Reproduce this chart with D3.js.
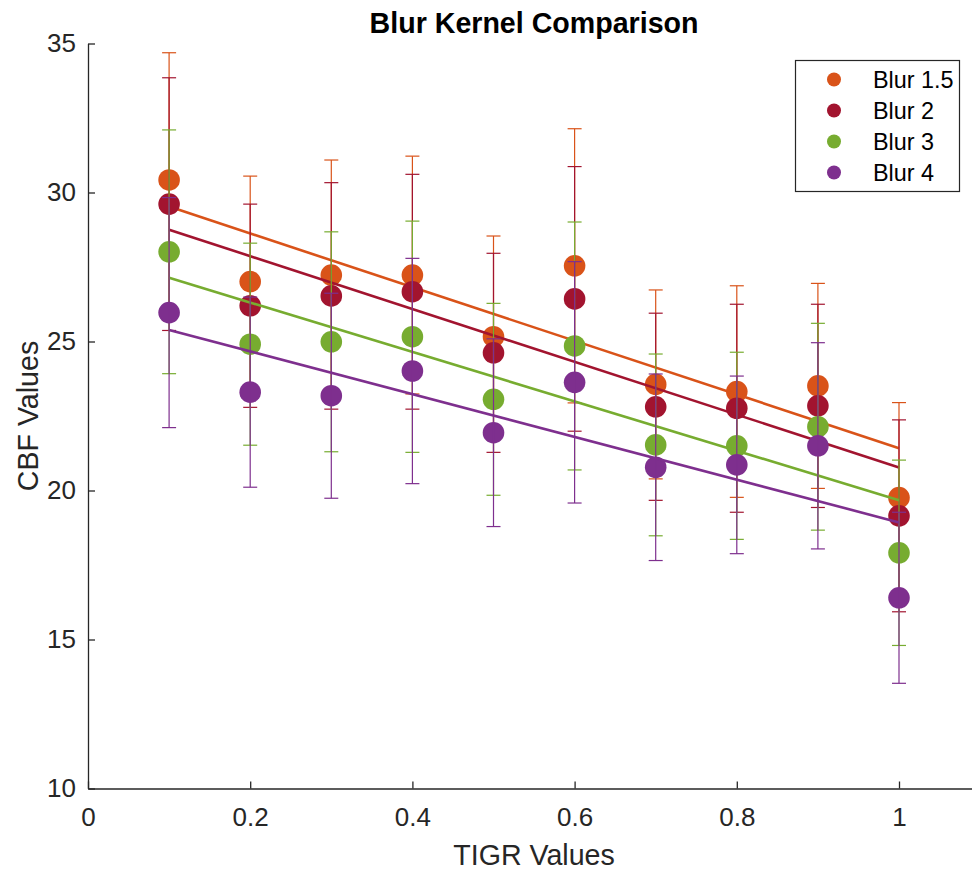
<!DOCTYPE html>
<html>
<head>
<meta charset="utf-8">
<script src="https://cdn.jsdelivr.net/npm/d3@7"></script>
<style>
  body { margin: 0; background: #fff; }
  svg { font-family: "Liberation Sans", Arial, Helvetica, sans-serif; }
</style>
</head>
<body>
<script>
// TIGR values on the x axis
var tigr = [0.1, 0.2, 0.3, 0.4, 0.5, 0.6, 0.7, 0.8, 0.9, 1.0];

// mean CBF per blur kernel, and the error bar half-lengths
var blur15 = [30.42, 27.01, 27.23, 27.23, 25.16, 27.54, 23.56, 23.32, 23.51, 19.76];
var err15  = [4.27, 3.54, 3.86, 3.99, 3.38, 4.60, 3.17, 3.55, 3.44, 3.19];
var blur2  = [29.61, 26.20, 26.53, 26.67, 24.62, 26.43, 22.81, 22.76, 22.84, 19.15];
var err2   = [4.24, 3.41, 3.80, 3.94, 3.34, 4.44, 3.14, 3.49, 3.41, 3.22];
var blur3  = [28.01, 24.91, 24.99, 25.16, 23.06, 24.85, 21.53, 21.50, 22.14, 17.91];
var err3   = [4.09, 3.39, 3.69, 3.88, 3.22, 4.16, 3.05, 3.14, 3.47, 3.11];
var blur4  = [25.97, 23.30, 23.18, 24.01, 21.94, 23.63, 20.78, 20.86, 21.50, 16.40];
var err4   = [3.86, 3.19, 3.44, 3.78, 3.15, 4.05, 3.13, 2.98, 3.46, 2.87];

var names  = ["Blur 1.5", "Blur 2", "Blur 3", "Blur 4"];
var colors = ["#D95319", "#A2142F", "#77AC30", "#7E2F8E"];
var yTicks = [10, 15, 20, 25, 30, 35];
var xTicks = [0, 0.2, 0.4, 0.6, 0.8, 1];

var series = [
  {name: names[0], color: colors[0], y: blur15, e: err15},
  {name: names[1], color: colors[1], y: blur2,  e: err2},
  {name: names[2], color: colors[2], y: blur3,  e: err3},
  {name: names[3], color: colors[3], y: blur4,  e: err4}
];

var W = 972, H = 873;
var plotLeft = 88, plotTop = 43.5, plotBottom = 788.5, unit = 811; // px per 1.0 on x

var svg = d3.select("body").append("svg")
  .attr("width", W)
  .attr("height", H);

var x = d3.scaleLinear().domain([0, 1.1]).range([plotLeft, plotLeft + 1.1 * unit]);
var y = d3.scaleLinear().domain([10, 35]).range([plotBottom, plotTop]);

// axes, ticks pointing inward like matlab
var xAxis = svg.append("g")
  .attr("transform", "translate(0," + plotBottom + ")")
  .call(d3.axisBottom(x).tickValues(xTicks).tickFormat(d3.format("")).tickSizeInner(-7).tickSizeOuter(0).tickPadding(19));
var yAxis = svg.append("g")
  .attr("transform", "translate(" + plotLeft + ",0)")
  .call(d3.axisLeft(y).tickValues(yTicks).tickSizeInner(-7).tickSizeOuter(0).tickPadding(12));

[xAxis, yAxis].forEach(function(g) {
  g.select(".domain").attr("stroke", "#262626").attr("stroke-width", 1.3);
  g.selectAll(".tick line").attr("stroke", "#262626").attr("stroke-width", 1.3);
  g.selectAll(".tick text").attr("fill", "#262626").attr("font-size", "26px").attr("font-family", "Liberation Sans, Arial, sans-serif");
});

// least squares fit on the means
function fit(xs, ys) {
  var mx = d3.mean(xs), my = d3.mean(ys);
  var sxy = d3.sum(xs, function(v, i) { return (v - mx) * (ys[i] - my); });
  var sxx = d3.sum(xs, function(v) { return (v - mx) * (v - mx); });
  var b = sxy / sxx;
  return function(v) { return my + b * (v - mx); };
}

var plot = svg.append("g");
var capHalf = 7;

series.forEach(function(s) {
  var pts = tigr.map(function(t, i) { return {x: t, y: s.y[i], e: s.e[i]}; });
  var g = plot.append("g");

  g.selectAll("circle")
    .data(pts)
    .enter()
    .append("circle")
      .attr("cx", function(d) { return x(d.x); })
      .attr("cy", function(d) { return y(d.y); })
      .attr("r", 10.8)
      .attr("fill", s.color);

  var eb = g.selectAll(".eb")
    .data(pts)
    .enter()
    .append("g")
      .attr("class", "eb")
      .attr("stroke", s.color)
      .attr("stroke-width", 1.2);
  eb.append("line")
    .attr("x1", function(d) { return x(d.x); })
    .attr("x2", function(d) { return x(d.x); })
    .attr("y1", function(d) { return y(d.y - d.e); })
    .attr("y2", function(d) { return y(d.y + d.e); });
  eb.append("line")
    .attr("x1", function(d) { return x(d.x) - capHalf; })
    .attr("x2", function(d) { return x(d.x) + capHalf; })
    .attr("y1", function(d) { return y(d.y + d.e); })
    .attr("y2", function(d) { return y(d.y + d.e); });
  eb.append("line")
    .attr("x1", function(d) { return x(d.x) - capHalf; })
    .attr("x2", function(d) { return x(d.x) + capHalf; })
    .attr("y1", function(d) { return y(d.y - d.e); })
    .attr("y2", function(d) { return y(d.y - d.e); });

  var f = fit(tigr, s.y);
  var ends = [d3.min(tigr), d3.max(tigr)];
  g.append("path")
    .datum(ends)
    .attr("fill", "none")
    .attr("stroke", s.color)
    .attr("stroke-width", 2.6)
    .attr("d", d3.line().x(function(v) { return x(v); }).y(function(v) { return y(f(v)); }));
});

// title and axis labels
svg.append("text")
  .attr("x", x(0.55))
  .attr("y", 33)
  .attr("text-anchor", "middle")
  .attr("font-size", "28.6px")
  .attr("font-weight", "bold")
  .attr("fill", "#000")
  .text("Blur Kernel Comparison");

svg.append("text")
  .attr("x", x(0.55))
  .attr("y", 865)
  .attr("text-anchor", "middle")
  .attr("font-size", "28.6px")
  .attr("fill", "#262626")
  .text("TIGR Values");

svg.append("text")
  .attr("transform", "translate(38," + ((plotTop + plotBottom) / 2) + ") rotate(-90)")
  .attr("text-anchor", "middle")
  .attr("font-size", "28.6px")
  .attr("fill", "#262626")
  .text("CBF Values");

// legend
var leg = svg.append("g");
leg.append("rect")
  .attr("x", 795.5)
  .attr("y", 60.5)
  .attr("width", 164)
  .attr("height", 131)
  .attr("fill", "#fff")
  .attr("stroke", "#262626")
  .attr("stroke-width", 1.2);

var rows = leg.selectAll(".row")
  .data(series)
  .enter()
  .append("g")
    .attr("class", "row")
    .attr("transform", function(d, i) { return "translate(0," + (79.5 + i * 31) + ")"; });
rows.append("circle")
  .attr("cx", 834)
  .attr("cy", 0)
  .attr("r", 7)
  .attr("fill", function(d) { return d.color; });
rows.append("text")
  .attr("x", 873)
  .attr("y", 0)
  .attr("dy", "0.35em")
  .attr("font-size", "23.4px")
  .attr("fill", "#000")
  .text(function(d) { return d.name; });
</script>
</body>
</html>
